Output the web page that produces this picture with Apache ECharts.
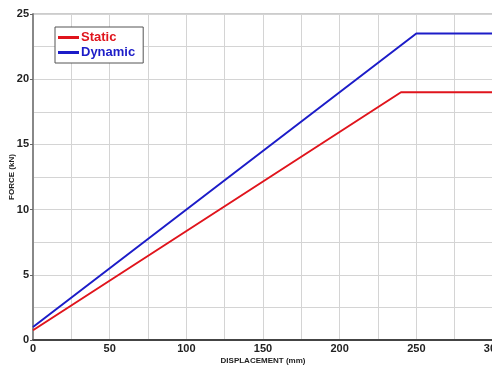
<!DOCTYPE html>
<html><head><meta charset="utf-8">
<script src="https://cdn.jsdelivr.net/npm/echarts@6/dist/echarts.min.js"></script>
<style>html,body{margin:0;padding:0;background:#fff}#c{width:492px;height:370px}</style>
</head><body><div id="c"></div>
<script>
var seriesNames = ["Static", "Dynamic"];
var staticX = [0, 240, 300];
var staticY = [0.75, 19, 19];
var dynamicX = [0, 250, 300];
var dynamicY = [1.0, 23.5, 23.5];
var xTickLabels = [0, 50, 100, 150, 200, 250, 300];
var yTickLabels = [0, 5, 10, 15, 20, 25];

function pairs(xs, ys){ return xs.map(function(x,i){ return [x, ys[i]]; }); }
var font = "'Liberation Sans', Arial, sans-serif";
var gridLine = {color:'#d4d4d4', width:1};
var chart = echarts.init(document.getElementById('c'), null, {renderer:'canvas'});
chart.setOption({
  animation:false,
  grid:{left:33, top:14, width:460, height:326, show:true, borderColor:'#999', borderWidth:1, backgroundColor:'#fff',
        containLabel:false, outerBoundsMode:'none'},
  legend:{
    orient:'vertical', left:55, top:27, itemGap:2, itemWidth:21, itemHeight:3,
    padding:[4,8,4,3], borderColor:'#555', borderWidth:1, backgroundColor:'#fff',
    icon:'rect',
    data:[
      {name:seriesNames[0], textStyle:{color:'#e0141c'}},
      {name:seriesNames[1], textStyle:{color:'#1c1cc8'}}
    ],
    textStyle:{fontFamily:font, fontWeight:'bold', fontSize:13, padding:[0,0,0,-3]}
  },
  xAxis:{
    type:'value', min:0, max:300, interval:50,
    name:'DISPLACEMENT (mm)', nameLocation:'middle', nameGap:17, nameMoveOverlap:false,
    nameTextStyle:{fontFamily:font, fontWeight:'bold', fontSize:8, color:'#222'},
    axisLine:{lineStyle:{color:'#444', width:2}},
    axisTick:{show:false},
    minorTick:{show:false, splitNumber:2},
    axisLabel:{fontFamily:font, fontWeight:'bold', fontSize:11, color:'#222', margin:3,
      formatter:function(v){ return xTickLabels.indexOf(v)>=0 ? String(v) : ''; }},
    splitLine:{show:true, lineStyle:gridLine},
    minorSplitLine:{show:true, lineStyle:gridLine}
  },
  yAxis:{
    type:'value', min:0, max:25, interval:5,
    name:'FORCE (kN)', nameLocation:'middle', nameGap:17, nameRotate:90, nameMoveOverlap:false,
    nameTextStyle:{fontFamily:font, fontWeight:'bold', fontSize:8, color:'#222'},
    axisLine:{show:true, lineStyle:{color:'#888', width:2}},
    axisTick:{show:true, length:3, inside:false, lineStyle:{color:'#666'}},
    minorTick:{show:false, splitNumber:2},
    axisLabel:{fontFamily:font, fontWeight:'bold', fontSize:11, color:'#222', margin:4,
      formatter:function(v){ return yTickLabels.indexOf(v)>=0 ? String(v) : ''; }},
    splitLine:{show:true, lineStyle:gridLine},
    minorSplitLine:{show:true, lineStyle:gridLine}
  },
  series:[
    {name:seriesNames[0], type:'line', data:pairs(staticX, staticY), showSymbol:false,
     lineStyle:{color:'#e0141c', width:2}, itemStyle:{color:'#e0141c'}},
    {name:seriesNames[1], type:'line', data:pairs(dynamicX, dynamicY), showSymbol:false,
     lineStyle:{color:'#1c1cc8', width:2}, itemStyle:{color:'#1c1cc8'}}
  ]
});
</script></body></html>
